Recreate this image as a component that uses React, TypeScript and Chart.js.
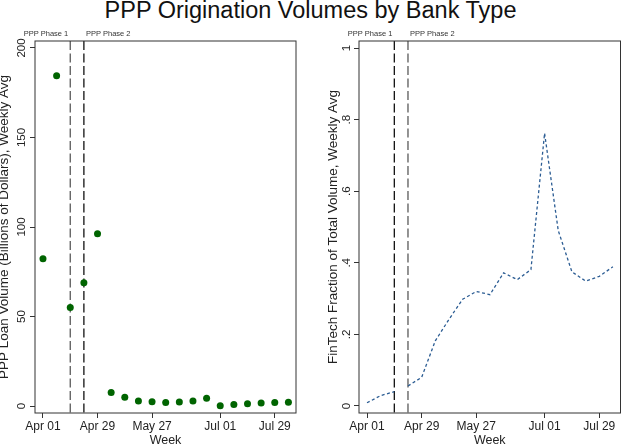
import React, { useEffect, useRef } from 'react';
import { Chart, registerables } from 'chart.js';

Chart.register(...registerables);

// weekly observations (week starting)
const weeks = [
  '2020-04-01', '2020-04-08', '2020-04-15', '2020-04-22', '2020-04-29',
  '2020-05-06', '2020-05-13', '2020-05-20', '2020-05-27', '2020-06-03',
  '2020-06-10', '2020-06-17', '2020-06-24', '2020-07-01', '2020-07-08',
  '2020-07-15', '2020-07-22', '2020-07-29', '2020-08-05',
];
// billions of dollars, weekly avg
const loanVolume = [
  82.3, 184.5, 55.0, 68.9, 96.2, 7.6, 4.9, 2.8, 2.4, 1.9,
  2.2, 2.8, 4.3, 0.2, 0.9, 1.3, 1.7, 1.9, 2.1,
];
// fintech fraction of total volume
const fintechShare = [
  0.009, 0.029, 0.04, 0.056, 0.08, 0.182, 0.242, 0.298, 0.32, 0.311,
  0.372, 0.353, 0.381, 0.762, 0.49, 0.375, 0.349, 0.362, 0.389,
];

const phaseDates = ['2020-04-15', '2020-04-22'];
const phaseLabels = ['PPP Phase 1', 'PPP Phase 2'];

const tickDates = ['2020-04-01', '2020-04-29', '2020-05-27', '2020-07-01', '2020-07-29'];
const tickLabels = ['Apr 01', 'Apr 29', 'May 27', 'Jul 01', 'Jul 29'];
const volumeTicks = [0, 50, 100, 150, 200];
const shareTicks = [0, 0.2, 0.4, 0.6, 0.8, 1];

const FONT = '"Liberation Sans", Arial, Helvetica, sans-serif';
const INK = '#222';

const dayOf = (d: string) => (Date.parse(d) - Date.parse(weeks[0])) / 86400000;
const phaseDays = phaseDates.map(dayOf);

// dashed phase markers, their labels and the plot box
const phasePlugin = (lineColors: string[]) => ({
  id: 'phases',
  beforeDatasetsDraw(chart: any) {
    const { ctx, chartArea, scales } = chart;
    ctx.save();
    phaseDays.forEach((d, i) => {
      const px = scales.x.getPixelForValue(d);
      ctx.setLineDash([9, 3.5]);
      ctx.strokeStyle = lineColors[i];
      ctx.lineWidth = 1.3;
      ctx.beginPath();
      ctx.moveTo(px, chartArea.top);
      ctx.lineTo(px, chartArea.bottom);
      ctx.stroke();
      ctx.setLineDash([]);
      ctx.fillStyle = '#333';
      ctx.font = `7.5px ${FONT}`;
      ctx.textBaseline = 'alphabetic';
      ctx.textAlign = i === 0 ? 'right' : 'left';
      ctx.fillText(phaseLabels[i], px + (i === 0 ? -2 : 2), chartArea.top - 5);
    });
    ctx.restore();
  },
  afterDraw(chart: any) {
    const { ctx, chartArea } = chart;
    ctx.save();
    ctx.strokeStyle = '#333';
    ctx.lineWidth = 1;
    ctx.strokeRect(chartArea.left, chartArea.top, chartArea.width, chartArea.height);
    ctx.restore();
  },
});

const xAxis = () => ({
  type: 'linear',
  min: -4.1,
  max: 129.9,
  afterBuildTicks: (s: any) => {
    s.ticks = tickDates.map((d) => ({ value: dayOf(d) }));
  },
  afterFit: (s: any) => {
    s.height = 32;
  },
  grid: { drawOnChartArea: false, tickLength: 5, tickColor: '#333', color: '#333' },
  border: { display: false },
  ticks: {
    autoSkip: false,
    maxRotation: 0,
    padding: 1.5,
    color: INK,
    font: { family: FONT, size: 12 },
    callback: (_v: any, i: number) => tickLabels[i],
  },
  title: {
    display: true,
    text: 'Week',
    color: INK,
    font: { family: FONT, size: 12.5, lineHeight: 0.6 },
    padding: { top: 0, bottom: 0.5 },
  },
});

const yAxis = (
  min: number, max: number, ticks: number[], width: number,
  labelPad: number, titleText: string, titlePad: number,
  fmt: (v: number) => string,
) => ({
  type: 'linear',
  min,
  max,
  afterBuildTicks: (s: any) => {
    s.ticks = ticks.map((v) => ({ value: v }));
  },
  afterFit: (s: any) => {
    s.width = width;
  },
  grid: { drawOnChartArea: false, tickLength: 5, tickColor: '#333', color: '#333' },
  border: { display: false },
  ticks: {
    autoSkip: false,
    minRotation: 90,
    maxRotation: 90,
    crossAlign: 'center',
    padding: labelPad,
    color: INK,
    font: { family: FONT, size: 11.5 },
    callback: (v: any) => fmt(Number(v)),
  },
  title: {
    display: true,
    text: titleText,
    color: INK,
    font: { family: FONT, size: 13.5, lineHeight: 0.6 },
    padding: { top: titlePad, bottom: 0 },
  },
});

const shareFmt = (v: number) => (v === 0 || v === 1 ? String(v) : String(v).replace(/^0/, ''));

export default function App() {
  const leftRef = useRef<HTMLCanvasElement>(null);
  const rightRef = useRef<HTMLCanvasElement>(null);

  useEffect(() => {
    if (!leftRef.current || !rightRef.current) return;

    const volumeChart = new Chart(leftRef.current, {
      type: 'scatter',
      data: {
        datasets: [
          {
            data: weeks.map((w, i) => ({ x: dayOf(w), y: loanVolume[i] })),
            backgroundColor: '#006400',
            borderWidth: 0,
            pointRadius: 3.5,
            pointHoverRadius: 3.5,
          },
        ],
      },
      options: {
        responsive: false,
        animation: false,
        layout: { padding: { top: 41, right: 14, left: 0, bottom: 0 } },
        plugins: { legend: { display: false }, tooltip: { enabled: false } },
        scales: {
          x: xAxis() as any,
          y: yAxis(-3.9, 203.9, volumeTicks, 35, -1.1,
            'PPP Loan Volume (Billions of Dollars), Weekly Avg', 0.55, (v) => String(v)) as any,
        },
      },
      plugins: [phasePlugin(['#5a5a5a', '#111'])],
    });

    const shareChart = new Chart(rightRef.current, {
      type: 'line',
      data: {
        datasets: [
          {
            data: weeks.map((w, i) => ({ x: dayOf(w), y: fintechShare[i] })),
            borderColor: '#2b5c93',
            borderWidth: 1.3,
            borderDash: [3, 2.5],
            pointRadius: 0,
            tension: 0,
            fill: false,
            // no line drawn across the gap between the two phases
            segment: {
              borderColor: (c: any) =>
                c.p0.parsed.x >= phaseDays[0] && c.p1.parsed.x <= phaseDays[1]
                  ? 'rgba(0,0,0,0)'
                  : '#2b5c93',
            },
          },
        ],
      },
      options: {
        responsive: false,
        animation: false,
        layout: { padding: { top: 41, right: 0.5, left: 0, bottom: 0 } },
        plugins: { legend: { display: false }, tooltip: { enabled: false } },
        scales: {
          x: xAxis() as any,
          y: yAxis(-0.0196, 1.0196, shareTicks, 49, 2.2,
            'FinTech Fraction of Total Volume, Weekly Avg', 19, shareFmt) as any,
        },
      },
      plugins: [phasePlugin(['#111', '#5a5a5a'])],
    });

    return () => {
      volumeChart.destroy();
      shareChart.destroy();
    };
  }, []);

  return (
    <div style={{ position: 'absolute', left: 0, top: 0, width: 621, height: 445, overflow: 'hidden', background: '#fff' }}>
      <div
        style={{
          position: 'absolute', left: 0, top: -2, width: 621, textAlign: 'center',
          fontFamily: FONT, fontSize: 23.5, lineHeight: '24px', color: '#111',
        }}
      >
        PPP Origination Volumes by Bank Type
      </div>
      <canvas ref={leftRef} width={310} height={445}
        style={{ position: 'absolute', left: 0, top: 0, width: 310, height: 445 }} />
      <canvas ref={rightRef} width={311} height={445}
        style={{ position: 'absolute', left: 310, top: 0, width: 311, height: 445 }} />
    </div>
  );
}
